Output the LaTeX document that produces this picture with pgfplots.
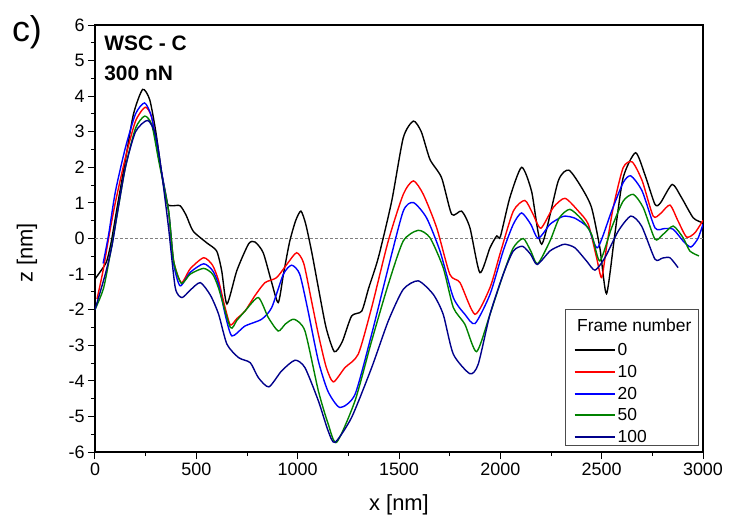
\documentclass[border=0pt]{standalone}
\usepackage{fontspec}
\setmainfont{Liberation Sans}
\usepackage{pgfplots}
\pgfplotsset{compat=1.18}
\definecolor{navyc}{RGB}{0,0,139}
\definecolor{greenc}{RGB}{0,130,0}
\begin{document}
\begin{tikzpicture}
\path[use as bounding box] (-95bp,-71bp) rectangle (634bp,452bp);
\begin{axis}[
  at={(0,0)}, anchor=south west,
  scale only axis, width=608bp, height=427bp,
  xmin=0, xmax=3000, ymin=-6, ymax=6,
  xtick={0,500,...,3000}, ytick={-6,-5,...,6},
  minor x tick num=1, minor y tick num=1,
  xtick pos=bottom, ytick pos=left, tick align=outside,
  major tick length=7bp, minor tick length=4bp,
  every tick/.style={black, line width=1bp},
  axis line style={line width=1.2bp},
  /pgf/number format/assume math mode=true,
  /pgf/number format/1000 sep={},
  ticklabel style={font=\fontsize{18}{20}\selectfont},
  xlabel={x [nm]}, ylabel={z [nm]},
  label style={font=\fontsize{22}{24}\selectfont},
  xlabel style={at={(axis description cs:0.5,-0.124)},anchor=center},
  ylabel style={at={(axis description cs:-0.112,0.466)},anchor=center},
  legend cell align=left,
  legend style={draw=none, fill=none, at={(axis description cs:0.787,0.259)}, anchor=north west,
    font=\fontsize{17.5}{17.5}\selectfont, row sep=4bp, inner sep=0pt},
  legend image code/.code={\draw[#1, line width=2bp] (0bp,0bp) -- (40bp,0bp);},
  every axis plot/.append style={line width=1.4bp, smooth, tension=0.4},
]
\draw[gray, line width=0.6bp, dash pattern=on 3bp off 2bp] (axis cs:0,0) -- (axis cs:3000,0);
\addplot[color=black] coordinates {(0,-1.14)(30,-0.9)(57,-0.65)(80,-0.1)(110,0.9)(150,2.2)(190,3.5)(235,4.19)(270,3.9)(300,3.0)(330,1.8)(355,1.0)(380,0.92)(420,0.92)(450,0.65)(484,0.21)(551,-0.12)(600,-0.35)(625,-0.9)(651,-1.84)(700,-0.9)(758,-0.15)(790,-0.1)(830,-0.4)(870,-1.2)(904,-1.8)(930,-1.0)(960,-0.1)(990,0.5)(1016,0.77)(1040,0.4)(1070,-0.4)(1102,-1.38)(1140,-2.5)(1181,-3.18)(1220,-2.9)(1266,-2.18)(1316,-2.04)(1350,-1.4)(1398,-0.54)(1464,1.05)(1521,2.83)(1571,3.3)(1610,3.0)(1653,2.22)(1710,1.71)(1760,0.68)(1809,0.77)(1850,0.3)(1899,-0.96)(1949,-0.26)(1982,0.07)(2000,0.05)(2047,1.15)(2105,2.0)(2154,1.33)(2204,-0.16)(2286,1.62)(2338,1.92)(2401,1.43)(2450,0.87)(2491,-0.26)(2524,-1.55)(2565,0.12)(2606,1.71)(2667,2.41)(2713,1.8)(2763,0.96)(2790,1.0)(2848,1.52)(2894,1.15)(2952,0.58)(3000,0.44)};
\addlegendentry{0}
\addplot[color=red] coordinates {(10,-1.7)(40,-0.9)(67,0.0)(100,1.0)(150,2.27)(200,3.3)(248,3.69)(280,3.4)(314,2.27)(340,1.5)(363,0.77)(388,-0.63)(426,-1.24)(470,-0.85)(536,-0.54)(580,-0.75)(610,-1.19)(640,-1.9)(668,-2.43)(700,-2.25)(740,-2.04)(790,-1.6)(839,-1.24)(896,-1.1)(950,-0.7)(995,-0.4)(1030,-0.7)(1070,-1.8)(1102,-2.69)(1140,-3.6)(1176,-4.03)(1233,-3.63)(1299,-3.25)(1365,-1.94)(1447,-0.07)(1521,1.24)(1571,1.62)(1620,1.24)(1686,0.3)(1751,-1.01)(1801,-1.24)(1875,-2.13)(1949,-1.38)(1998,-0.44)(2064,0.77)(2121,1.07)(2160,0.7)(2200,0.29)(2261,0.87)(2319,1.13)(2385,0.77)(2434,0.4)(2475,-0.54)(2500,-1.1)(2525,-0.2)(2557,0.87)(2606,1.99)(2651,2.15)(2700,1.62)(2754,0.63)(2790,0.7)(2837,0.94)(2877,0.49)(2919,0.04)(2960,0.16)(3000,0.51)};
\addlegendentry{10}
\addplot[color=blue] coordinates {(40,-0.7)(67,0.1)(100,1.3)(150,2.55)(200,3.5)(245,3.81)(280,3.4)(314,2.3)(363,0.77)(388,-0.7)(420,-1.33)(470,-0.95)(536,-0.71)(580,-0.9)(610,-1.3)(645,-2.2)(676,-2.74)(740,-2.46)(822,-2.27)(872,-1.94)(929,-1.01)(970,-0.75)(1010,-1.0)(1050,-2.0)(1102,-3.44)(1150,-4.3)(1209,-4.75)(1283,-4.38)(1365,-2.69)(1447,-0.82)(1521,0.77)(1571,1.01)(1636,0.58)(1702,-0.35)(1768,-1.66)(1825,-2.13)(1875,-2.39)(1949,-1.57)(2014,-0.35)(2064,0.4)(2105,0.72)(2150,0.4)(2187,0.0)(2245,0.4)(2294,0.58)(2319,0.63)(2368,0.57)(2434,0.3)(2480,-0.26)(2549,0.77)(2606,1.57)(2644,1.76)(2700,1.33)(2763,0.3)(2810,0.28)(2853,0.26)(2902,-0.07)(2940,-0.24)(2975,0.0)(3000,0.4)};
\addlegendentry{20}
\addplot[color=greenc] coordinates {(0,-2.0)(43,-1.38)(84,-0.16)(110,0.7)(150,2.0)(200,3.1)(245,3.44)(280,3.2)(314,2.2)(363,0.77)(388,-0.63)(426,-1.26)(470,-1.0)(536,-0.84)(580,-1.0)(610,-1.4)(668,-2.5)(700,-2.3)(740,-2.04)(806,-1.66)(855,-2.22)(904,-2.6)(940,-2.4)(983,-2.27)(1036,-2.6)(1102,-4.28)(1150,-5.2)(1192,-5.73)(1283,-4.56)(1365,-2.88)(1447,-1.29)(1521,-0.07)(1595,0.23)(1653,0.02)(1718,-0.82)(1768,-1.94)(1825,-2.41)(1883,-3.18)(1949,-2.13)(2014,-1.01)(2064,-0.26)(2113,0.0)(2150,-0.35)(2184,-0.71)(2245,-0.07)(2291,0.58)(2343,0.82)(2401,0.54)(2450,0.12)(2491,-0.63)(2549,0.3)(2606,1.05)(2656,1.24)(2705,0.87)(2763,-0.02)(2800,0.1)(2853,0.35)(2902,0.02)(2935,-0.35)(2980,-0.49)};
\addlegendentry{50}
\addplot[color=navyc] coordinates {(0,-2.0)(51,-1.0)(84,-0.2)(110,0.7)(150,2.0)(200,3.0)(260,3.32)(300,2.9)(330,1.8)(363,0.3)(396,-1.38)(429,-1.66)(470,-1.45)(520,-1.24)(570,-1.6)(610,-2.13)(651,-2.97)(709,-3.35)(766,-3.49)(806,-3.91)(858,-4.17)(921,-3.72)(987,-3.42)(1036,-3.63)(1102,-4.56)(1150,-5.4)(1184,-5.73)(1266,-5.03)(1365,-3.63)(1447,-2.32)(1521,-1.43)(1595,-1.19)(1669,-1.57)(1718,-2.13)(1768,-3.25)(1850,-3.8)(1891,-3.53)(1949,-2.13)(2014,-1.01)(2064,-0.35)(2110,-0.22)(2150,-0.45)(2182,-0.73)(2245,-0.35)(2291,-0.21)(2319,-0.16)(2368,-0.26)(2425,-0.63)(2467,-0.89)(2516,-0.54)(2582,0.21)(2644,0.63)(2697,0.35)(2763,-0.58)(2800,-0.55)(2837,-0.54)(2877,-0.82)};
\addlegendentry{100}
\draw[gray!60!black, line width=0.8bp] (axis description cs:0.773,0.016) rectangle (axis description cs:0.992,0.333);
\node[font=\fontsize{17.5}{17.5}\selectfont] at (axis description cs:0.887,0.297) {Frame number};
\node[anchor=base west, font=\bfseries\fontsize{21}{21}\selectfont, inner sep=0pt] at (axis description cs:0.015,0.941) {WSC - C};
\node[anchor=base west, font=\bfseries\fontsize{21}{21}\selectfont, inner sep=0pt] at (axis description cs:0.015,0.869) {300 nN};
\end{axis}
\node[font=\fontsize{36}{36}\selectfont] at (-68bp,420bp) {c)};
\end{tikzpicture}
\end{document}
